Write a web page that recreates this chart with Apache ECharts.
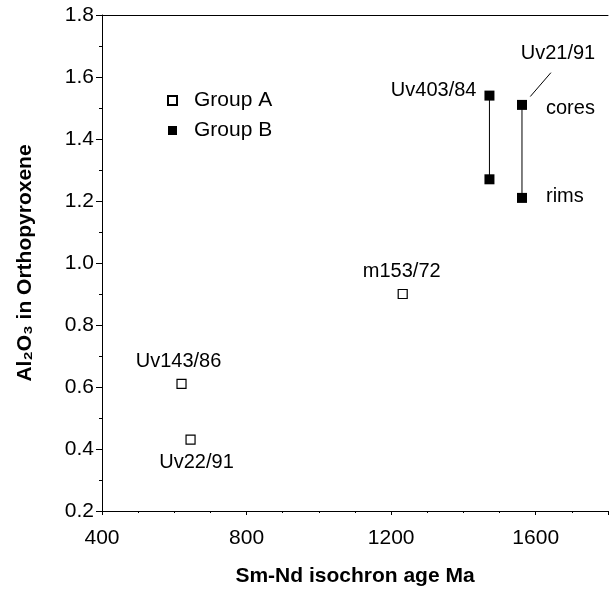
<!DOCTYPE html>
<html>
<head>
<meta charset="utf-8">
<script src="https://cdn.jsdelivr.net/npm/echarts@6/dist/echarts.min.js"></script>
<style>
  html, body { margin: 0; padding: 0; background: #fff; }
  #chart { width: 611px; height: 592px; }
</style>
</head>
<body>
<div id="chart"></div>
<script>
// Al2O3 in orthopyroxene vs Sm-Nd age
const xTicks = [400, 800, 1200, 1600];
const yTicks = [0.2, 0.4, 0.6, 0.8, 1.0, 1.2, 1.4, 1.6, 1.8];

const groupANames = ["Uv143/86", "Uv22/91", "m153/72"];
const groupAAge = [620, 645, 1232];
const groupAAl = [0.61, 0.43, 0.90];

// cores / rims pairs
const groupBNames = ["Uv403/84", "", "Uv21/91", ""];
const groupBAge = [1472, 1472, 1562, 1562];
const groupBAl = [1.54, 1.27, 1.51, 1.21];
const groupBZone = ["", "", "cores", "rims"];

// leader line Uv21/91
const leaderAge = [1585, 1642];
const leaderAl = [1.537, 1.614];

const FONT = "'Liberation Sans', Arial, sans-serif";

// where each label sits relative to its square
const labelPlace = {
  "Uv143/86": { align: "center", offset: [-3, -22] },
  "Uv22/91": { align: "center", offset: [6, 23] },
  "m153/72": { align: "center", offset: [-1, -23] },
  "Uv403/84": { align: "right", offset: [-13, -5] },
  "Uv21/91": { align: "center", offset: [36, -51] },
  "cores": { align: "left", offset: [24, 4] },
  "rims": { align: "left", offset: [24, -1] },
};

function pointItem(x, y, text) {
  const item = { value: [x, y] };
  if (text) {
    const p = labelPlace[text];
    item.label = {
      show: true, position: "inside", formatter: text,
      align: p.align, verticalAlign: "middle", offset: p.offset,
      color: "#000", fontSize: 20, fontFamily: FONT, opacity: 1,
    };
  }
  return item;
}

const groupAData = groupAAge.map((x, i) => pointItem(x, groupAAl[i], groupANames[i]));
const groupBData = groupBAge.map((x, i) => pointItem(x, groupBAl[i], groupBNames[i]));
const zoneData = groupBAge.map((x, i) => pointItem(x, groupBAl[i], groupBZone[i]));

// vertical tie lines core -> rim per sample
const tieSeries = [0, 2].map((i) => ({
  type: "line", silent: true, symbol: "none", z: 1,
  data: [[groupBAge[i], groupBAl[i]], [groupBAge[i + 1], groupBAl[i + 1]]],
  lineStyle: { color: "#000", width: 1 },
}));

const chart = echarts.init(document.getElementById("chart"), null, { renderer: "canvas" });
chart.setOption({
  animation: false,
  backgroundColor: "#fff",
  grid: { left: 102, top: 15, width: 510, height: 498 },
  legend: {
    orient: "vertical", left: 162, top: 85,
    itemWidth: 9, itemHeight: 9, itemGap: 9,
    icon: "rect",
    data: ["Group A", "Group B"],
    textStyle: { color: "#000", fontSize: 21, fontFamily: FONT, padding: [0, 0, 0, 12] },
  },
  xAxis: [{
    type: "value", min: 400, max: 1800, interval: 400,
    name: "Sm-Nd isochron age Ma", nameLocation: "middle", nameGap: 55,
    nameTextStyle: { color: "#000", fontSize: 21, fontWeight: "bold", fontFamily: FONT },
    axisLine: { lineStyle: { color: "#000", width: 1 } },
    axisTick: { show: true, length: 4, inside: false, lineStyle: { color: "#000" } },
    minorTick: { show: true, splitNumber: 4, length: 2, lineStyle: { color: "#000" } },
    splitLine: { show: false },
    axisLabel: {
      color: "#000", fontSize: 21, fontFamily: FONT, margin: 17,
      formatter: (v) => (xTicks.includes(v) ? String(v) : ""),
    },
  }, {
    type: "value", position: "top", min: 400, max: 1800,
    axisLine: { show: true, onZero: false, lineStyle: { color: "#000", width: 1 } },
    axisTick: { show: false }, axisLabel: { show: false }, splitLine: { show: false },
  }],
  yAxis: {
    type: "value", min: 0.2, max: 1.8, interval: 0.2,
    name: "Al₂O₃ in Orthopyroxene", nameLocation: "middle", nameGap: 66,
    nameTextStyle: { color: "#000", fontSize: 21, fontWeight: "bold", fontFamily: FONT },
    axisLine: { show: true, lineStyle: { color: "#000", width: 1 } },
    axisTick: { show: true, length: 6, lineStyle: { color: "#000" } },
    minorTick: { show: true, splitNumber: 2, length: 3, lineStyle: { color: "#000" } },
    splitLine: { show: false },
    axisLabel: {
      color: "#000", fontSize: 21, fontFamily: FONT, margin: 8,
      formatter: (v) => {
        const t = yTicks.find((k) => Math.abs(k - v) < 1e-6);
        return t === undefined ? "" : t.toFixed(1);
      },
    },
  },
  series: [
    ...tieSeries,
    {
      type: "line", silent: true, symbol: "none", z: 1,
      data: leaderAge.map((x, i) => [x, leaderAl[i]]),
      lineStyle: { color: "#000", width: 1 },
    },
    {
      name: "Group A", type: "scatter", symbol: "rect", symbolSize: 9, z: 3,
      itemStyle: { color: "#fff", borderColor: "#000", borderWidth: 1.2, opacity: 1 },
      data: groupAData,
    },
    {
      name: "Group B", type: "scatter", symbol: "rect", symbolSize: 10, z: 3,
      itemStyle: { color: "#000", borderColor: "#000", borderWidth: 0, opacity: 1 },
      data: groupBData,
    },
    {
      type: "scatter", silent: true, symbolSize: 1, z: 2,
      itemStyle: { color: "rgba(0,0,0,0)" },
      data: zoneData,
    },
  ],
});
</script>
</body>
</html>
